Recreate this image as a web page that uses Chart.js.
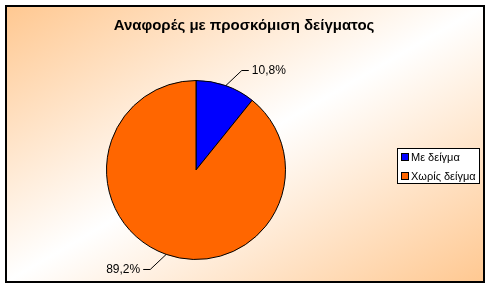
<!DOCTYPE html>
<html>
<head>
<meta charset="utf-8">
<script src="https://cdn.jsdelivr.net/npm/chart.js@4"></script>
<style>
  html, body { margin: 0; padding: 0; background: #fff; }
  #wrap { width: 491px; height: 289px; position: relative; }
</style>
</head>
<body>
<div id="wrap"><canvas id="pieChart" width="491" height="289"></canvas></div>
<script>
// =============================
// Data
// =============================
const titleText = 'Αναφορές με προσκόμιση δείγματος';
const categories = ['Με δείγμα', 'Χωρίς δείγμα'];
const values = [10.8, 89.2];
const sliceColors = ['#0000FF', '#FF6600'];
const valueLabels = ['10,8%', '89,2%'];

// =============================
// Background, frame, title
// =============================
const framePlugin = {
    id: 'frame',
    beforeDraw(chart) {
        const ctx = chart.ctx;
        ctx.save();
        ctx.fillStyle = '#fff';
        ctx.fillRect(0, 0, chart.width, chart.height);

        // diagonal gradient: orange corners, white band bottom-left -> top-right
        ctx.save();
        ctx.translate(6, 6);
        ctx.scale(478, 276);
        const g = ctx.createLinearGradient(0, 0, 1, 1);
        g.addColorStop(0, '#FFC891');
        g.addColorStop(0.5, '#FFFFFF');
        g.addColorStop(1, '#FFC891');
        ctx.fillStyle = g;
        ctx.fillRect(0, 0, 1, 1);
        ctx.restore();

        ctx.strokeStyle = '#000';
        ctx.lineWidth = 2;
        ctx.strokeRect(6, 6, 478, 276);

        ctx.fillStyle = '#000';
        ctx.font = 'bold 15px "Liberation Sans", Arial, sans-serif';
        ctx.textAlign = 'center';
        ctx.textBaseline = 'middle';
        ctx.fillText(titleText, 244, 26);
        ctx.restore();
    }
};

// =============================
// Percent labels with leader lines + boxed legend
// =============================
const labelPlugin = {
    id: 'pieLabels',
    afterDatasetsDraw(chart) {
        const ctx = chart.ctx;
        const meta = chart.getDatasetMeta(0);
        ctx.save();
        ctx.font = '12px "Liberation Sans", Arial, sans-serif';
        ctx.textBaseline = 'middle';
        ctx.strokeStyle = '#000';
        ctx.lineWidth = 1;
        meta.data.forEach((arc, i) => {
            const mid = (arc.startAngle + arc.endAngle) / 2;
            const r = arc.outerRadius;
            const ex = arc.x + Math.cos(mid) * r;
            const ey = arc.y + Math.sin(mid) * r;
            const side = Math.cos(mid) >= 0 ? 1 : -1;
            const ly = arc.y + Math.sin(mid) * (r + 16);
            const kx = ex + side * 16;
            const hx = kx + side * 7;
            ctx.beginPath();
            ctx.moveTo(ex, ey);
            ctx.lineTo(kx, ly);
            ctx.lineTo(hx, ly);
            ctx.stroke();
            ctx.fillStyle = '#000';
            ctx.textAlign = side > 0 ? 'left' : 'right';
            ctx.fillText(valueLabels[i], hx + side * 3, ly);
        });

        // legend box
        const bx = 397.5, by = 148.5, bw = 82, bh = 35;
        ctx.fillStyle = '#fff';
        ctx.fillRect(bx, by, bw, bh);
        ctx.strokeRect(bx, by, bw, bh);
        ctx.font = '11px "Liberation Sans", Arial, sans-serif';
        ctx.textAlign = 'left';
        categories.forEach((name, i) => {
            const cy = 157 + i * 19;
            ctx.fillStyle = sliceColors[i];
            ctx.fillRect(401.5, cy - 3.5, 7, 7);
            ctx.strokeRect(401.5, cy - 3.5, 7, 7);
            ctx.fillStyle = '#000';
            ctx.fillText(name, 411, cy + 0.5);
        });
        ctx.restore();
    }
};

// =============================
// Chart
// =============================
const pieChart = new Chart(document.getElementById('pieChart'), {
    type: 'pie',
    data: {
        labels: categories,
        datasets: [{
            data: values,
            backgroundColor: sliceColors,
            borderColor: '#000',
            borderWidth: 1
        }]
    },
    options: {
        responsive: false,
        animation: false,
        layout: {
            padding: { left: 106, right: 205, top: 80, bottom: 29 }
        },
        plugins: {
            legend: { display: false },
            tooltip: { enabled: false },
            title: { display: false }
        }
    },
    plugins: [framePlugin, labelPlugin]
});
</script>
</body>
</html>
